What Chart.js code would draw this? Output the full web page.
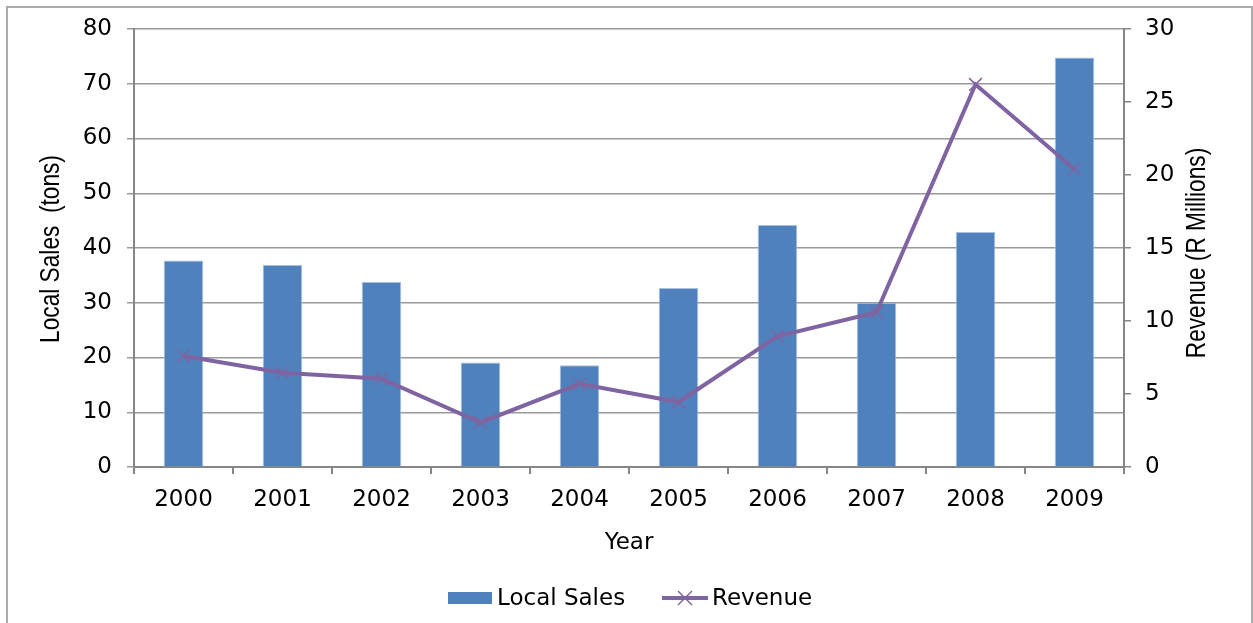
<!DOCTYPE html>
<html>
<head>
<meta charset="utf-8">
<script src="https://cdn.jsdelivr.net/npm/chart.js@4"></script>
<style>
  html, body { margin: 0; padding: 0; background: #fff; }
  #wrap { position: relative; width: 1253px; height: 623px; overflow: hidden; }
  #frame { position: absolute; left: 6px; top: 6px; width: 1243px; height: 700px;
           border: 2px solid #ababab; border-bottom: none; pointer-events: none; }
  #chart { position: absolute; left: 0; top: 0; }
  #legend { position: absolute; left: 0; top: 582px; width: 1253px; height: 30px;
            font: 23px "DejaVu Sans", sans-serif; color: #000; }
  .item { position: absolute; top: 0; height: 30px; line-height: 30px; white-space: nowrap; }
  .swatch { position: absolute; }
</style>
</head>
<body>
<div id="wrap">
  <canvas id="chart" width="1253" height="623"></canvas>
  <div id="frame"></div>
  <div id="legend">
    <div class="item" style="left:448px;">
      <div class="swatch" style="left:0; top:10px; width:44px; height:12px; background:#4F81BD;"></div>
      <span style="position:absolute; left:49px; top:0;">Local Sales</span>
    </div>
    <div class="item" style="left:662px;">
      <svg class="swatch" style="left:0; top:0;" width="46" height="30">
        <line x1="0" y1="16" x2="46" y2="16" stroke="#8064A2" stroke-width="4"/>
        <line x1="16" y1="9" x2="30" y2="23" stroke="#8064A2" stroke-width="1.5"/>
        <line x1="30" y1="9" x2="16" y2="23" stroke="#8064A2" stroke-width="1.5"/>
      </svg>
      <span style="position:absolute; left:50px; top:0;">Revenue</span>
    </div>
  </div>
</div>
<script>
// Yearly figures
const years = ['2000', '2001', '2002', '2003', '2004', '2005', '2006', '2007', '2008', '2009'];
const localSales = [37.7, 36.9, 33.8, 19.1, 18.6, 32.7, 44.2, 30.0, 42.9, 74.8];   // tons
const revenue = [7.6, 6.45, 6.05, 3.05, 5.7, 4.45, 8.95, 10.6, 26.2, 20.4];        // R millions
const salesTicks = [0, 10, 20, 30, 40, 50, 60, 70, 80];
const revenueTicks = [0, 5, 10, 15, 20, 25, 30];
const salesTitle = 'Local Sales  (tons)';
const revenueTitle = 'Revenue (R Millions)';

const BLUE = '#4F81BD';
const PURPLE = '#8064A2';
const GRID = '#9a9a9a';
const AXIS = '#868686';
const tickFont = { family: '"DejaVu Sans", sans-serif', size: 23 };

// Both vertical axis titles read bottom-to-top, in a condensed face
const sideTitles = {
  id: 'sideTitles',
  afterDraw(chart) {
    const { ctx, chartArea } = chart;
    const cy = (chartArea.top + chartArea.bottom) / 2;
    const draw = (text, x, y) => {
      ctx.save();
      ctx.translate(x, y);
      ctx.rotate(-Math.PI / 2);
      ctx.scale(0.84, 1);
      ctx.font = '27px "Liberation Sans", Arial, sans-serif';
      ctx.fillStyle = '#000';
      ctx.textAlign = 'center';
      ctx.textBaseline = 'middle';
      ctx.fillText(text, 0, 0);
      ctx.restore();
    };
    draw(salesTitle, 52, cy + 1);
    draw(revenueTitle, 1198, cy + 5);
  }
};

new Chart(document.getElementById('chart'), {
  data: {
    labels: years,
    datasets: [
      {
        type: 'line',
        label: 'Revenue',
        data: revenue,
        yAxisID: 'yRev',
        borderColor: PURPLE,
        backgroundColor: PURPLE,
        borderWidth: 4,
        pointStyle: 'crossRot',
        pointRadius: 9,
        pointBorderWidth: 1.5,
        pointBorderColor: PURPLE,
        tension: 0,
        order: 0
      },
      {
        type: 'bar',
        label: 'Local Sales',
        data: localSales,
        yAxisID: 'ySales',
        backgroundColor: BLUE,
        borderColor: '#a9c0df',
        borderWidth: 1,
        barPercentage: 0.4,
        categoryPercentage: 1.0,
        order: 1
      }
    ]
  },
  options: {
    responsive: false,
    animation: false,
    events: [],
    layout: { padding: { top: 29, left: 0, right: 0, bottom: 0 } },
    plugins: { legend: { display: false }, tooltip: { enabled: false } },
    scales: {
      x: {
        type: 'category',
        offset: true,
        grid: { offset: true, drawOnChartArea: false, color: AXIS, lineWidth: 2, tickLength: 7 },
        border: { color: AXIS, width: 2 },
        ticks: { font: tickFont, color: '#000', padding: 12, maxRotation: 0 },
        title: { display: true, text: 'Year', font: tickFont, color: '#000', padding: { top: 0, bottom: 66 } },
        afterFit: s => { s.height = 156; }
      },
      ySales: {
        type: 'linear',
        position: 'left',
        min: 0, max: 80,
        afterBuildTicks: s => { s.ticks = salesTicks.map(v => ({ value: v })); },
        grid: { color: GRID, lineWidth: 1.5, tickLength: 7 },
        border: { color: AXIS, width: 2 },
        ticks: { font: tickFont, color: '#000', padding: 15 },
        afterFit: s => { s.width = 134; }
      },
      yRev: {
        type: 'linear',
        position: 'right',
        min: 0, max: 30,
        afterBuildTicks: s => { s.ticks = revenueTicks.map(v => ({ value: v })); },
        grid: { drawOnChartArea: false, color: AXIS, lineWidth: 1.5, tickLength: 7 },
        border: { color: AXIS, width: 2 },
        ticks: { font: tickFont, color: '#000', padding: 14 },
        afterFit: s => { s.width = 129; }
      }
    }
  },
  plugins: [sideTitles]
});
</script>
</body>
</html>
